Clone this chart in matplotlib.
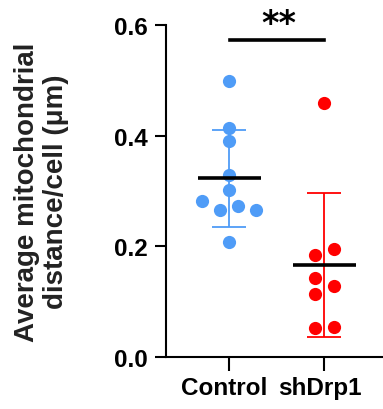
import matplotlib

matplotlib.use("Agg")
import matplotlib.pyplot as plt
import matplotlib.transforms as mtransforms
import numpy as np

plt.rcParams["font.family"] = ["Liberation Sans", "DejaVu Sans"]
plt.rcParams["font.weight"] = "bold"

groups = ["Control", "shDrp1"]
control = [0.499, 0.413, 0.390, 0.329, 0.302, 0.282, 0.266, 0.272, 0.266, 0.207]
shdrp1 = [0.459, 0.185, 0.195, 0.142, 0.128, 0.113, 0.052, 0.055]
control_jitter = [0, 0, 0, 0, 0, -0.29, -0.10, 0.09, 0.28, 0]
shdrp1_jitter = [0, -0.10, 0.10, -0.10, 0.10, -0.10, -0.10, 0.10]
colors = ["#4F9CF7", "#FF0000"]
yticks = [0.0, 0.2, 0.4, 0.6]

fig = plt.figure(figsize=(3.83, 4.10), dpi=100)
ax = fig.add_axes([166 / 383, 52 / 410, 217 / 383, 332 / 410])

for i, (vals, jit, col) in enumerate(zip([control, shdrp1], [control_jitter, shdrp1_jitter], colors)):
    vals = np.array(vals)
    x = i + np.array(jit)
    ax.plot(x, vals, "o", color=col, markersize=9.5, markeredgewidth=0, zorder=3)
    mean, sd = vals.mean(), vals.std(ddof=1)
    ax.errorbar(i, mean, yerr=sd, fmt="none", ecolor=col, elinewidth=1.3,
                capsize=12.5, capthick=1.3, zorder=2)
    ax.hlines(mean, i - 0.335, i + 0.335, color="black", lw=2.6, zorder=4)

# significance bracket
ax.plot([0.01, 1.0], [0.573, 0.573], color="black", lw=2.6, clip_on=False)
ax.text(0.52, 0.585, "**", ha="center", va="baseline", fontsize=24,
        family="DejaVu Sans", fontweight="bold", clip_on=False)

ax.set_xlim(-0.668, 1.616)
ax.set_ylim(0, 0.6)
ax.set_yticks(yticks)
ax.set_yticklabels([f"{t:.1f}" for t in yticks])
ax.set_xticks([0, 1])
ax.set_xticklabels(groups)
for s in ["top", "right"]:
    ax.spines[s].set_visible(False)
for s in ["left", "bottom"]:
    ax.spines[s].set_linewidth(1.5)
ax.tick_params(axis="y", length=8, width=1.5, pad=5, labelsize=17.5)
ax.tick_params(axis="x", length=10, width=1.5, pad=4, labelsize=17.5)
shift = mtransforms.ScaledTranslation(-5 / 100, 0, fig.dpi_scale_trans)
for lab in ax.get_xticklabels():
    lab.set_transform(lab.get_transform() + shift)

fig.text(42 / 383, 0.532, "Average mitochondrial\ndistance/cell (\u03bcm)", rotation=90,
         ha="center", va="center", multialignment="center", fontsize=20, fontweight="bold",
         color="#222222", linespacing=1.15)

fig.savefig("out.png", dpi=100, facecolor="white")
